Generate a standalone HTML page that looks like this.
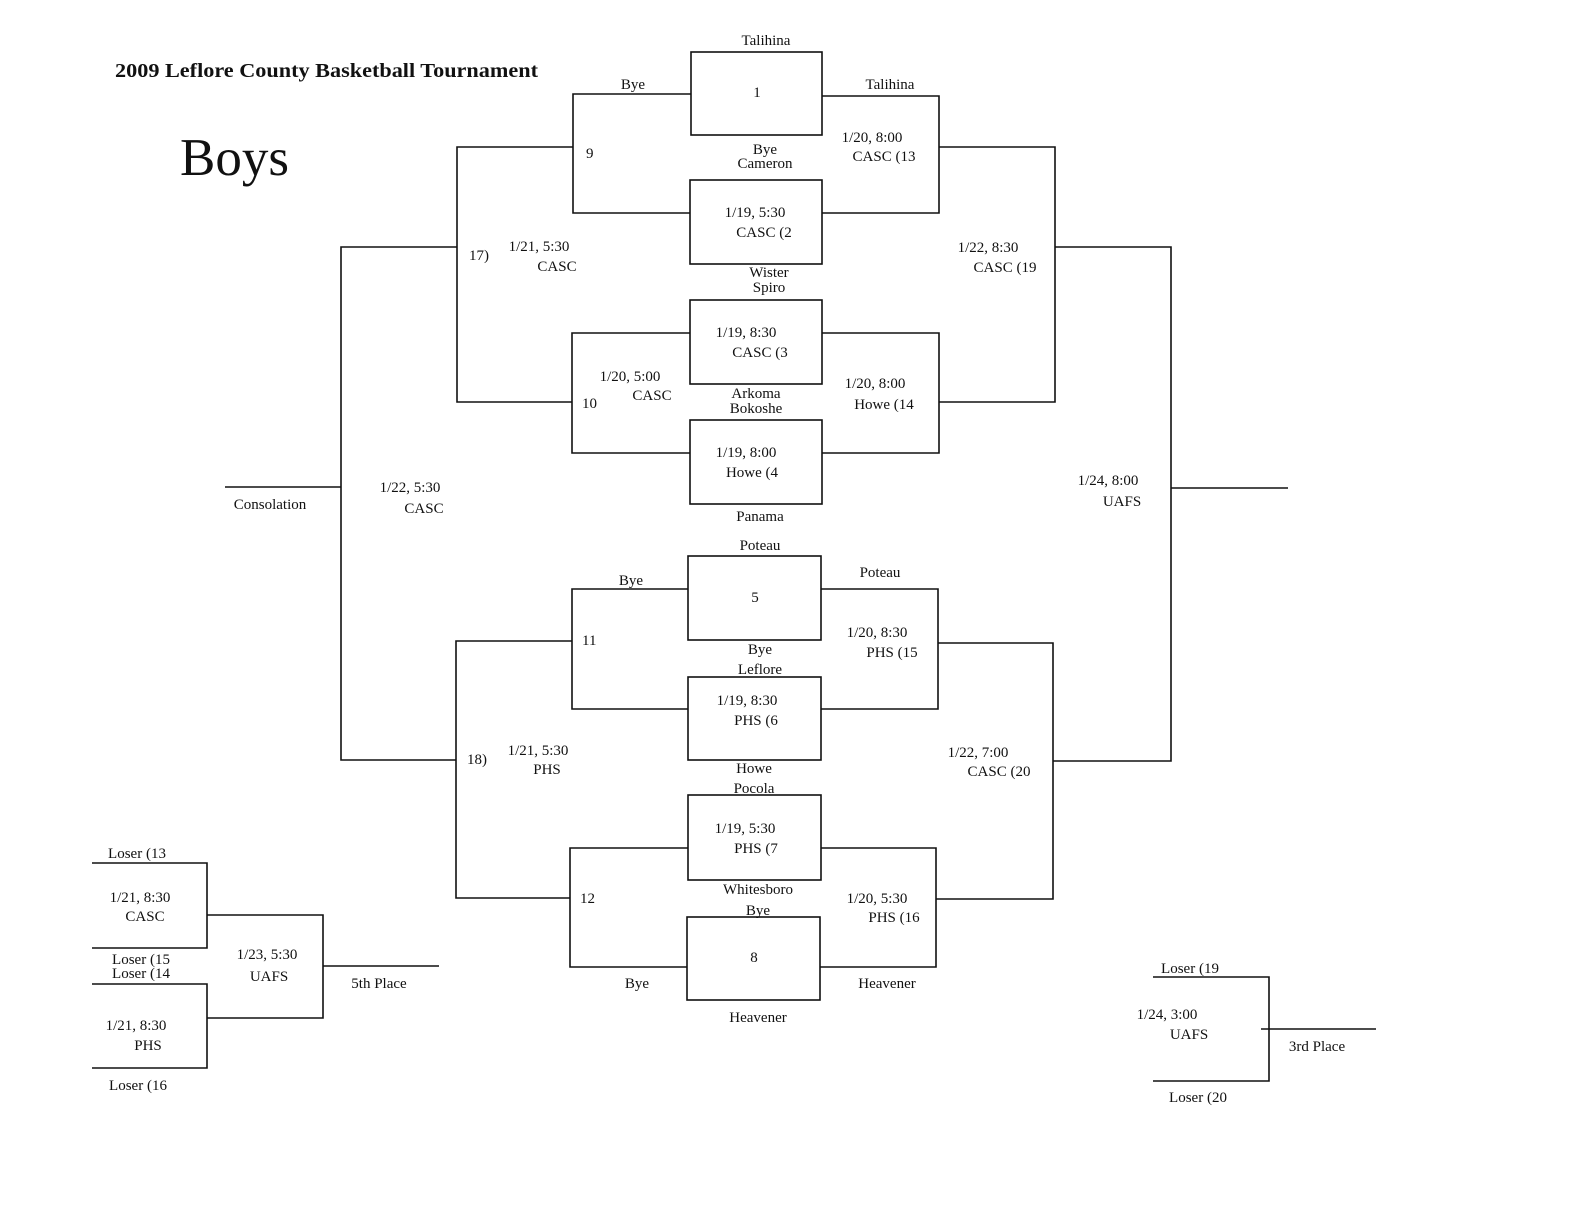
<!DOCTYPE html>
<html><head><meta charset="utf-8"><style>
html,body{margin:0;padding:0;background:#fff}
svg text{font-family:"Liberation Serif",serif;font-size:15px;fill:#111}
</style></head><body>
<svg width="1584" height="1225" viewBox="0 0 1584 1225" xmlns="http://www.w3.org/2000/svg">
<g stroke="#111" stroke-width="1.6" fill="none">
<rect x="691" y="52" width="131" height="83"/>
<rect x="690" y="180" width="132" height="84"/>
<rect x="690" y="300" width="132" height="84"/>
<rect x="690" y="420" width="132" height="84"/>
<rect x="688" y="556" width="133" height="84"/>
<rect x="688" y="677" width="133" height="83"/>
<rect x="688" y="795" width="133" height="85"/>
<rect x="687" y="917" width="133" height="83"/>
<polyline points="691,94 573,94 573,213 690,213"/>
<polyline points="822,96 939,96 939,213 822,213"/>
<polyline points="690,333 572,333 572,453 690,453"/>
<polyline points="822,333 939,333 939,453 822,453"/>
<polyline points="573,147 457,147 457,402 572,402"/>
<polyline points="939,147 1055,147 1055,402 939,402"/>
<polyline points="457,247 341,247 341,760 456,760"/>
<line x1="225" y1="487" x2="341" y2="487"/>
<polyline points="1055,247 1171,247 1171,761 1053,761"/>
<line x1="1171" y1="488" x2="1288" y2="488"/>
<polyline points="688,589 572,589 572,709 688,709"/>
<polyline points="821,589 938,589 938,709 821,709"/>
<polyline points="688,848 570,848 570,967 687,967"/>
<polyline points="821,848 936,848 936,967 820,967"/>
<polyline points="572,641 456,641 456,898 570,898"/>
<polyline points="938,643 1053,643 1053,899 936,899"/>
<polyline points="92,863 207,863 207,948 92,948"/>
<polyline points="92,984 207,984 207,1068 92,1068"/>
<polyline points="207,915 323,915 323,1018 207,1018"/>
<line x1="323" y1="966" x2="439" y2="966"/>
<polyline points="1153,977 1269,977 1269,1081 1153,1081"/>
<line x1="1261" y1="1029" x2="1376" y2="1029"/>
</g>
<text x="115" y="77" textLength="423" lengthAdjust="spacingAndGlyphs" style="font-size:20px;font-weight:bold">2009 Leflore County Basketball Tournament</text>
<text x="180" y="175" style="font-size:53px">Boys</text>
<g text-anchor="middle">
<text x="766" y="45">Talihina</text>
<text x="757" y="97">1</text>
<text x="633" y="89">Bye</text>
<text x="890" y="89">Talihina</text>
<text x="765" y="154">Bye</text>
<text x="765" y="168">Cameron</text>
<text x="755" y="217">1/19, 5:30</text>
<text x="764" y="237">CASC  (2</text>
<text x="769" y="277">Wister</text>
<text x="769" y="292">Spiro</text>
<text x="746" y="337">1/19, 8:30</text>
<text x="760" y="357">CASC  (3</text>
<text x="756" y="398">Arkoma</text>
<text x="756" y="413">Bokoshe</text>
<text x="746" y="457">1/19, 8:00</text>
<text x="752" y="477">Howe   (4</text>
<text x="760" y="521">Panama</text>
<text x="760" y="550">Poteau</text>
<text x="755" y="602">5</text>
<text x="631" y="585">Bye</text>
<text x="880" y="577">Poteau</text>
<text x="760" y="654">Bye</text>
<text x="760" y="674">Leflore</text>
<text x="747" y="705">1/19, 8:30</text>
<text x="756" y="725">PHS  (6</text>
<text x="754" y="773">Howe</text>
<text x="754" y="793">Pocola</text>
<text x="745" y="833">1/19, 5:30</text>
<text x="756" y="853">PHS    (7</text>
<text x="758" y="894">Whitesboro</text>
<text x="758" y="915">Bye</text>
<text x="754" y="962">8</text>
<text x="637" y="988">Bye</text>
<text x="887" y="988">Heavener</text>
<text x="758" y="1022">Heavener</text>
<text x="872" y="142">1/20, 8:00</text>
<text x="884" y="161">CASC   (13</text>
<text x="875" y="388">1/20, 8:00</text>
<text x="884" y="409">Howe   (14</text>
<text x="877" y="637">1/20, 8:30</text>
<text x="892" y="657">PHS   (15</text>
<text x="877" y="903">1/20, 5:30</text>
<text x="894" y="922">PHS    (16</text>
<text x="630" y="381">1/20, 5:00</text>
<text x="652" y="400">CASC</text>
<text x="539" y="251">1/21, 5:30</text>
<text x="557" y="271">CASC</text>
<text x="538" y="755">1/21, 5:30</text>
<text x="547" y="774">PHS</text>
<text x="988" y="252">1/22, 8:30</text>
<text x="1005" y="272">CASC  (19</text>
<text x="978" y="757">1/22, 7:00</text>
<text x="999" y="776">CASC  (20</text>
<text x="410" y="492">1/22, 5:30</text>
<text x="424" y="513">CASC</text>
<text x="1108" y="485">1/24, 8:00</text>
<text x="1122" y="506">UAFS</text>
<text x="270" y="509">Consolation</text>
<text x="137" y="858">Loser (13</text>
<text x="140" y="902">1/21, 8:30</text>
<text x="145" y="921">CASC</text>
<text x="141" y="964">Loser (15</text>
<text x="141" y="978">Loser (14</text>
<text x="136" y="1030">1/21, 8:30</text>
<text x="148" y="1050">PHS</text>
<text x="138" y="1090">Loser (16</text>
<text x="267" y="959">1/23, 5:30</text>
<text x="269" y="981">UAFS</text>
<text x="379" y="988">5th Place</text>
<text x="1190" y="973">Loser (19</text>
<text x="1167" y="1019">1/24, 3:00</text>
<text x="1189" y="1039">UAFS</text>
<text x="1317" y="1051">3rd Place</text>
<text x="1198" y="1102">Loser (20</text>
</g>
<text x="586" y="158">9</text>
<text x="582" y="408">10</text>
<text x="582" y="645">11</text>
<text x="580" y="903">12</text>
<text x="469" y="260">17)</text>
<text x="467" y="764">18)</text>
</svg>
</body></html>
